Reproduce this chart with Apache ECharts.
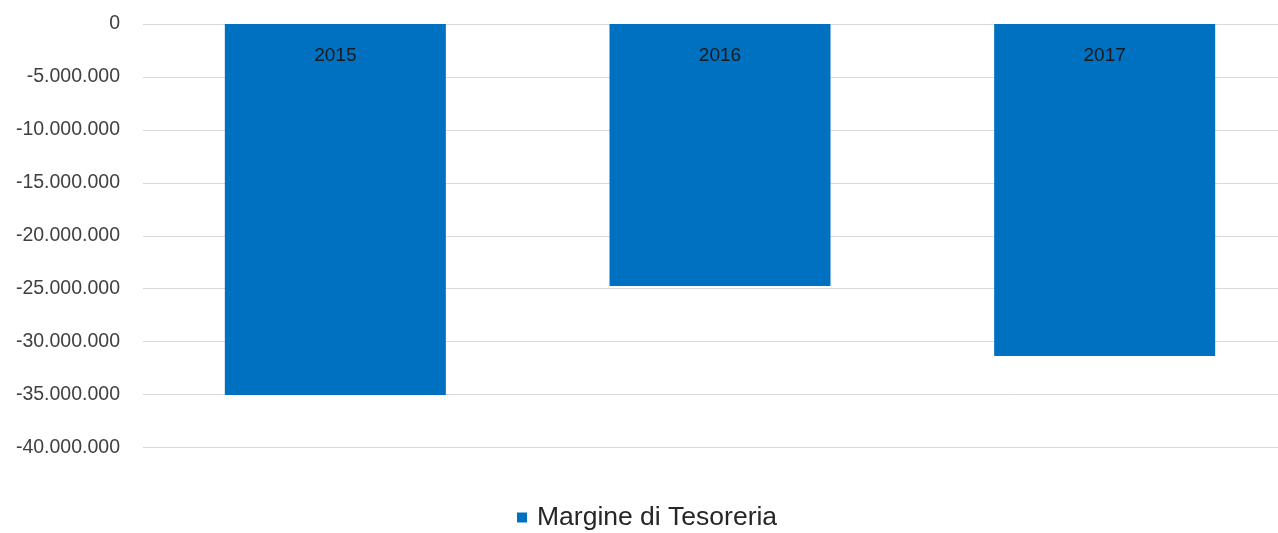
<!DOCTYPE html>
<html>
<head>
<meta charset="utf-8">
<script src="https://cdn.jsdelivr.net/npm/echarts@6/dist/echarts.min.js"></script>
<style>
  html, body { margin: 0; padding: 0; background: #fff; overflow: hidden; }
  /* the original plot runs past the right edge of the picture */
  #chart { width: 1297px; height: 533px; }
</style>
</head>
<body>
<div id="chart"></div>
<script>
// values
const years = ['2015', '2016', '2017']
const margine = [-35050000, -24750000, -31350000]
const seriesName = 'Margine di Tesoreria'

// 1234567 -> 1.234.567
function itNumber(v) {
  const s = String(Math.abs(v)).replace(/\B(?=(\d{3})+(?!\d))/g, '.')
  return v < 0 ? '-' + s : s
}

const chart = echarts.init(document.getElementById('chart'))
chart.setOption({
  animation: false,
  grid: { left: 143, right: 0, top: 24, bottom: 85.5 },
  legend: {
    data: [seriesName],
    left: 512,
    top: 499,
    icon: 'rect',
    itemWidth: 10,
    itemHeight: 10,
    textStyle: { fontFamily: 'Liberation Sans', fontSize: 26.5, color: '#262626', padding: [0, 0, 0, 5] }
  },
  xAxis: {
    type: 'category',
    data: years,
    position: 'top',
    axisLine: { show: false },
    axisTick: { show: false },
    axisLabel: {
      inside: true,
      margin: 22,
      fontFamily: 'Liberation Sans',
      fontSize: 19,
      color: '#1a1a1a'
    },
    z: 10
  },
  yAxis: {
    type: 'value',
    min: -40000000,
    max: 0,
    interval: 5000000,
    axisLine: { show: false },
    axisTick: { show: false },
    splitLine: { lineStyle: { color: '#d9d9d9', width: 1 } },
    axisLabel: {
      margin: 23,
      fontFamily: 'Liberation Sans',
      fontSize: 19.5,
      color: '#404040',
      formatter: itNumber
    }
  },
  series: [{
    name: seriesName,
    type: 'bar',
    data: margine,
    barWidth: 221,
    itemStyle: { color: '#0070c0' }
  }]
})
</script>
</body>
</html>
